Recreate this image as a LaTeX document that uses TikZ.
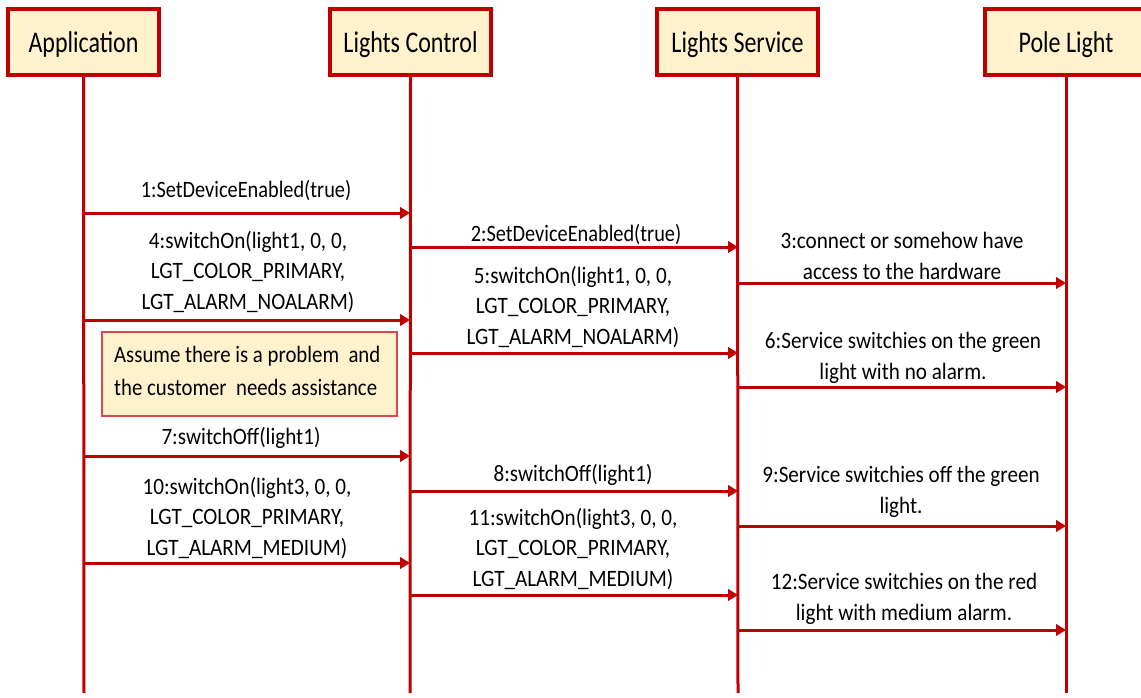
\documentclass[tikz,border=0pt]{standalone}
\usepackage{fontspec}
\setmainfont{Carlito}
\newfontfamily\lblfont[FakeStretch=0.9]{Carlito}
\newfontfamily\lblnarrow[FakeStretch=0.865]{Carlito}
\newfontfamily\notefont[FakeStretch=0.885]{Carlito}
\newfontfamily\hdrfont[FakeStretch=0.8]{Carlito}
\usetikzlibrary{arrows.meta}
\definecolor{dred}{HTML}{C00000}
\definecolor{boxfill}{HTML}{FFF2CC}
\definecolor{notered}{HTML}{D9484A}
\begin{document}
\begin{tikzpicture}[x=1pt,y=-1pt,
  header/.style={draw=dred,line width=4pt,fill=boxfill,minimum height=66pt,inner sep=0pt,text height=24pt,text depth=2pt,font=\hdrfont\fontsize{30}{34}\selectfont},
  lifeline/.style={draw=dred,line width=3pt},
  msg/.style={draw=dred,line width=3pt,-{Triangle[length=10pt,width=11.5pt]}},
  lbl/.style={align=center,inner sep=0pt,font=\lblfont\fontsize{23.5}{30.5}\selectfont},
  lbln/.style={lbl,font=\lblnarrow\fontsize{23.5}{30.5}\selectfont},
  notebox/.style={draw=notered,line width=1.3pt,fill=boxfill,inner sep=0pt,minimum width=295pt,minimum height=84pt},
  notetext/.style={align=left,inner sep=0pt,font=\notefont\fontsize{23.5}{33}\selectfont}]
\useasboundingbox (0,0) rectangle (1141,698);
% headers
\node[header,minimum width=151pt] (app) at (83.5,42) {Application};
\node[header,minimum width=161pt] (lc) at (410.5,42) {Lights Control};
\node[header,minimum width=161pt] (ls) at (737.5,42) {Lights Service};
\node[header,minimum width=162pt] (pl) at (1066,42) {Pole Light};
% lifeline ends
\coordinate (appE) at (84,693);
\coordinate (lcE) at (410,693);
\coordinate (lsE) at (738,693);
\coordinate (plE) at (1066,693);
\draw[lifeline] (app.south) -- (appE);
\draw[lifeline] (lc.south) -- (lcE);
\draw[lifeline] (ls.south) -- (lsE);
\draw[lifeline] (pl.south) -- (plE);
% message endpoints
\foreach \n/\xa/\xb/\y in {1/84/410/213, 2/410/738/247, 3/738/1066/283, 4/84/410/320,
  5/410/738/353, 6/738/1066/387, 7/84/410/456, 8/410/738/491, 9/738/1066/526,
  10/84/410/563, 11/410/738/595, 12/738/1066/630}{
  \coordinate (s\n) at (\xa,\y);
  \coordinate (e\n) at (\xb,\y);
}
\foreach \n in {1,...,12}{\draw[msg] (s\n) -- (e\n);}
% labels
\node[lbln] (l1) at (246,191) {1:SetDeviceEnabled(true)};
\node[lbln] (l2) at (576,235) {2:SetDeviceEnabled(true)};
\node[lbl] (l3) at (902,256) {3:connect or somehow have\\access to the hardware};
\node[lbl] (l4) at (248,272) {4:switchOn(light1, 0, 0,\\LGT\_COLOR\_PRIMARY,\\LGT\_ALARM\_NOALARM)};
\node[lbl] (l5) at (573,307) {5:switchOn(light1, 0, 0,\\LGT\_COLOR\_PRIMARY,\\LGT\_ALARM\_NOALARM)};
\node[lbl] (l6) at (903,358) {6:Service switchies on the green\\light with no alarm.};
\node[lbl] (l7) at (241,438) {7:switchOff(light1)};
\node[lbl] (l8) at (573,475) {8:switchOff(light1)};
\node[lbl] (l9) at (901,492) {9:Service switchies off the green\\light.};
\node[lbl] (l10) at (247,518) {10:switchOn(light3, 0, 0,\\LGT\_COLOR\_PRIMARY,\\LGT\_ALARM\_MEDIUM)};
\node[lbl] (l11) at (573,549) {11:switchOn(light3, 0, 0,\\LGT\_COLOR\_PRIMARY,\\LGT\_ALARM\_MEDIUM)};
\node[lbl] (l12) at (904,599) {12:Service switchies on the red\\light with medium alarm.};
% note
\node[notebox] (nt) at (249.5,374) {};
\node[notetext,anchor=west] (ntt) at (114,371) {Assume there is a problem \ and\\the customer \ needs assistance};
\end{tikzpicture}
\end{document}
